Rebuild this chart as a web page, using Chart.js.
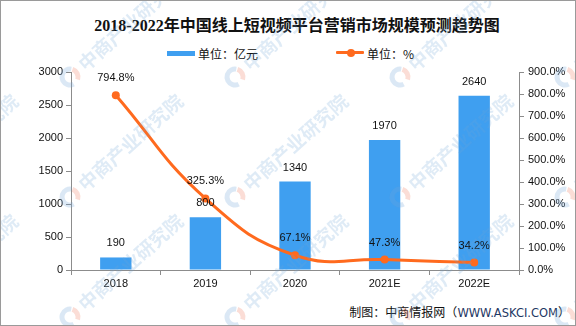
<!DOCTYPE html>
<html>
<head>
<meta charset="utf-8">
<script src="https://cdn.jsdelivr.net/npm/chart.js@4/dist/chart.umd.min.js"></script>
<style>
  body { margin: 0; background: #fff; }
  #wrap { position: relative; width: 576px; height: 326px; overflow: hidden; background: #fff; }
  #frame { position: absolute; left: 0; top: 0; width: 576px; height: 326px; box-sizing: border-box; border: 1px solid #9a9a9a; z-index: 3; pointer-events: none; }
  #title { position: absolute; left: 0; top: 12px; width: 576px; box-sizing: border-box; padding-left: 18px; text-align: center; white-space: nowrap; font: bold 16px "Liberation Serif", "Noto Sans CJK SC"; color: #111; }
  .legend-text { position: absolute; top: 45px; font: 12px "Noto Sans CJK SC"; color: #111; white-space: nowrap; }
  #legBar { position: absolute; left: 167px; top: 51px; width: 28px; height: 5px; background: #3f9ff0; }
  #legLine { position: absolute; left: 336px; top: 51px; width: 28px; height: 3px; background: #ff6a1e; border-radius: 1px; }
  #legDot { position: absolute; left: 347px; top: 48.5px; width: 8px; height: 8px; border-radius: 50%; background: #ff6a1e; }
  #footer { position: absolute; right: 6px; top: 303px; white-space: nowrap; font: 12px "Noto Sans CJK SC"; color: #111; }
  #footer span { font-family: "DejaVu Sans"; font-size: 11.5px; color: #1f3864; }
  canvas { position: absolute; left: 0; top: 0; z-index: 2; }
</style>
</head>
<body>
<div id="wrap">
  <div id="title">2018-2022年中国线上短视频平台营销市场规模预测趋势图</div>
  <div id="legBar"></div>
  <div class="legend-text" style="left:198px">单位：亿元</div>
  <div id="legLine"></div>
  <div id="legDot"></div>
  <div class="legend-text" style="left:367px">单位：%</div>
  <div id="footer">制图：中商情报网（<span>WWW.ASKCI.COM</span>）</div>
  <canvas id="chart" width="576" height="326"></canvas>
  <div id="frame"></div>
</div>
<script>
// market size (亿元) and growth rate (%)
const years = ['2018', '2019', '2020', '2021E', '2022E'];
const marketSize = [190, 800, 1340, 1970, 2640];
const growthRate = [794.8, 325.3, 67.1, 47.3, 34.2];
// [min, max, step]
const sizeAxisRange = [0, 3000, 500];
const rateAxisRange = [0, 900, 100];

const barColor = '#3f9ff0';
const lineColor = '#ff6a1e';
const axisColor = '#8c8c8c';
const tickFont = { family: 'Liberation Sans', size: 11 };

// value labels above bars and points
const valueLabels = {
  id: 'valueLabels',
  afterDatasetsDraw(chart) {
    const ctx = chart.ctx;
    ctx.save();
    ctx.font = '11px "Liberation Sans"';
    ctx.fillStyle = '#111';
    ctx.textAlign = 'center';
    ctx.textBaseline = 'middle';
    chart.getDatasetMeta(1).data.forEach((bar, i) => {
      ctx.fillText(String(marketSize[i]), bar.x, bar.y - 14);
    });
    chart.getDatasetMeta(0).data.forEach((pt, i) => {
      ctx.fillText(growthRate[i].toFixed(1) + '%', pt.x, pt.y - 17);
    });
    ctx.restore();
  }
};

// faint diagonal company watermark over the whole chart
const watermark = {
  id: 'watermark',
  afterDraw(chart) {
    const ctx = chart.ctx;
    ctx.save();
    for (let row = 0; row < 4; row++) {
      for (let col = -1; col < 4; col++) {
        const x = 70 + col * 165;
        const y = -43 + row * 120;
        ctx.save();
        ctx.translate(x, y);
        ctx.lineWidth = 5;
        ctx.strokeStyle = 'rgba(110,165,215,0.25)';
        ctx.beginPath();
        ctx.arc(0, 0, 8, Math.PI * 0.35, Math.PI * 1.55);
        ctx.stroke();
        ctx.strokeStyle = 'rgba(240,120,90,0.25)';
        ctx.beginPath();
        ctx.arc(0, 0, 8, Math.PI * 1.6, Math.PI * 2.1);
        ctx.stroke();
        ctx.rotate(-42 * Math.PI / 180);
        ctx.font = 'bold 19px "Noto Sans CJK SC"';
        ctx.fillStyle = 'rgba(110,165,215,0.22)';
        ctx.textBaseline = 'middle';
        ctx.fillText('中商产业研究院', 15, 0);
        ctx.restore();
      }
    }
    ctx.restore();
  }
};

new Chart(document.getElementById('chart'), {
  type: 'bar',
  data: {
    labels: years,
    datasets: [
      {
        type: 'line',
        label: '单位：%',
        data: growthRate,
        yAxisID: 'y1',
        borderColor: lineColor,
        backgroundColor: lineColor,
        borderWidth: 3,
        pointRadius: 4,
        pointBorderWidth: 0,
        tension: 0.45,
        order: 0
      },
      {
        label: '单位：亿元',
        data: marketSize,
        yAxisID: 'y',
        backgroundColor: barColor,
        categoryPercentage: 1,
        barPercentage: 0.35,
        order: 1
      }
    ]
  },
  options: {
    responsive: false,
    animation: false,
    layout: { padding: { top: 72, bottom: 30, left: 0, right: 0 } },
    plugins: {
      legend: { display: false },
      title: { display: false },
      tooltip: { enabled: false }
    },
    scales: {
      x: {
        grid: { drawOnChartArea: false, tickLength: 5, color: axisColor },
        border: { color: axisColor },
        ticks: { color: '#111', font: tickFont, padding: 2 },
        afterFit: (scale) => { scale.height = 26; }
      },
      y: {
        position: 'left',
        min: sizeAxisRange[0],
        max: sizeAxisRange[1],
        grid: { drawOnChartArea: false, tickLength: 5, color: axisColor },
        border: { color: axisColor },
        ticks: {
          stepSize: sizeAxisRange[2],
          color: '#111',
          font: tickFont,
          padding: 3,
          callback: (v) => String(v)
        },
        afterFit: (scale) => { scale.width = 71; }
      },
      y1: {
        position: 'right',
        min: rateAxisRange[0],
        max: rateAxisRange[1],
        grid: { drawOnChartArea: false, tickLength: 5, color: axisColor },
        border: { color: axisColor },
        ticks: {
          stepSize: rateAxisRange[2],
          color: '#111',
          font: tickFont,
          padding: 4,
          callback: (v) => v.toFixed(1) + '%'
        },
        afterFit: (scale) => { scale.width = 57; }
      }
    }
  },
  plugins: [valueLabels, watermark]
});
</script>
</body>
</html>
